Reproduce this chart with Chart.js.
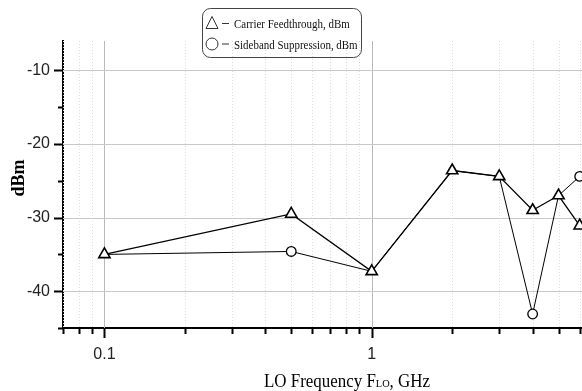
<!DOCTYPE html>
<html>
<head>
<meta charset="utf-8">
<script src="https://cdn.jsdelivr.net/npm/chart.js@4.4.0/dist/chart.umd.min.js"></script>
<style>
  html, body { margin: 0; padding: 0; background: #fff; }
</style>
</head>
<body>
<canvas id="chart" width="582" height="391"></canvas>
<script>
// Data
const freqGHz = [0.1, 0.5, 1, 2, 3, 4, 5, 6];
const carrierFeedthrough = [-35.0, -29.5, -37.3, -23.6, -24.4, -29.0, -27.0, -31.1];
const sidebandSuppression = [-35.0, -34.6, -37.3, -23.6, -24.4, -43.1, -27.0, -24.4];
const seriesNames = ['Carrier Feedthrough, dBm', 'Sideband Suppression, dBm'];
const xTickLabels = [0.1, 1, 10];
const yTickLabels = [-10, -20, -30, -40];

const SERIF = '"Liberation Serif", "Times New Roman", serif';
const SANS = '"Liberation Sans", Arial, sans-serif';

function isNiceLog(v) {
    const e = Math.floor(Math.log10(v) + 1e-9);
    const s = v / Math.pow(10, e);
    return Math.abs(s - Math.round(s)) < 1e-6 ? Math.round(s) : 0;
}

// grid lines and tick marks, drawn from the scales' own ticks
const axisDecor = {
    id: 'axisDecor',
    beforeDatasetsDraw(chart) {
        const { ctx, chartArea: a, scales: { x, y } } = chart;
        ctx.save();
        ctx.lineWidth = 1;
        x.ticks.forEach(t => {
            const s = isNiceLog(t.value);
            if (!s) return;
            const px = Math.round(x.getPixelForValue(t.value)) + 0.5;
            if (px > a.right) return;
            if (s === 1) {
                ctx.strokeStyle = '#b9b9b9';
                ctx.setLineDash([]);
            } else {
                ctx.strokeStyle = '#dcdcdc';
                ctx.setLineDash([1, 2]);
            }
            ctx.beginPath();
            ctx.moveTo(px, a.top);
            ctx.lineTo(px, a.bottom);
            ctx.stroke();
            // tick mark
            ctx.setLineDash([]);
            ctx.strokeStyle = '#000';
            ctx.lineWidth = 2;
            ctx.beginPath();
            ctx.moveTo(px, a.bottom);
            ctx.lineTo(px, a.bottom + (s === 1 ? 10 : 6));
            ctx.stroke();
            ctx.lineWidth = 1;
        });
        y.ticks.forEach(t => {
            if (t.value % 5 !== 0) return;
            const py = Math.round(y.getPixelForValue(t.value)) + 0.5;
            const major = t.value % 10 === 0;
            if (major) {
                ctx.strokeStyle = '#c8c8c8';
                ctx.lineWidth = 1.2;
                ctx.beginPath();
                ctx.moveTo(a.left, py);
                ctx.lineTo(a.right, py);
                ctx.stroke();
            }
            ctx.strokeStyle = '#000';
            ctx.lineWidth = 2;
            ctx.beginPath();
            ctx.moveTo(a.left, py);
            ctx.lineTo(a.left - (major ? 9 : 5), py);
            ctx.stroke();
        });
        ctx.restore();
    },
    afterDraw(chart) {
        const { ctx } = chart;
        ctx.save();
        // legend box
        ctx.strokeStyle = '#444';
        ctx.lineWidth = 1;
        ctx.beginPath();
        ctx.roundRect(202.5, 8.5, 159, 49, 8);
        ctx.stroke();
        ctx.fillStyle = '#111';
        ctx.textBaseline = 'middle';
        const rows = [23.5, 44];
        const styles = ['triangle', 'circle'];
        rows.forEach((ry, i) => {
            ctx.strokeStyle = '#333';
            ctx.lineWidth = 1;
            ctx.beginPath();
            if (styles[i] === 'triangle') {
                ctx.moveTo(212, ry - 7);
                ctx.lineTo(218, ry + 5);
                ctx.lineTo(206, ry + 5);
                ctx.closePath();
            } else {
                ctx.arc(212, ry, 6, 0, Math.PI * 2);
            }
            ctx.stroke();
            ctx.beginPath();
            ctx.moveTo(222, ry);
            ctx.lineTo(229, ry);
            ctx.stroke();
            ctx.save();
            ctx.translate(234, ry + 1);
            ctx.scale(0.81, 1);
            ctx.font = '13.5px ' + SERIF;
            ctx.fillText(seriesNames[i], 0, 0);
            ctx.restore();
        });
        // y title
        ctx.fillStyle = '#000';
        ctx.font = 'bold 18px ' + SERIF;
        ctx.textAlign = 'center';
        ctx.textBaseline = 'middle';
        ctx.translate(19, 178);
        ctx.rotate(-Math.PI / 2);
        ctx.fillText('dBm', 0, 0);
        ctx.setTransform(1, 0, 0, 1, 0, 0);
        // x title with subscript
        const parts = [['LO Frequency F', 18], ['LO', 11], [', GHz', 18]];
        ctx.textAlign = 'left';
        ctx.textBaseline = 'alphabetic';
        let total = 0;
        parts.forEach(p => { ctx.font = p[1] + 'px ' + SERIF; total += ctx.measureText(p[0]).width; });
        const sx = 0.94;
        ctx.translate(347 - total * sx / 2, 387);
        ctx.scale(sx, 1);
        let tx = 0;
        parts.forEach(p => {
            ctx.font = p[1] + 'px ' + SERIF;
            ctx.fillText(p[0], tx, 0);
            tx += ctx.measureText(p[0]).width;
        });
        ctx.restore();
    }
};

const ctx = document.getElementById('chart').getContext('2d');
new Chart(ctx, {
    type: 'line',
    data: {
        datasets: [
            {
                label: seriesNames[0],
                data: freqGHz.map((f, i) => ({ x: f, y: carrierFeedthrough[i] })),
                borderColor: '#000',
                borderWidth: 1.3,
                pointStyle: 'triangle',
                pointRadius: 6.5,
                pointBorderWidth: 1.6,
                pointBackgroundColor: '#fff',
                pointBorderColor: '#000'
            },
            {
                label: seriesNames[1],
                data: freqGHz.map((f, i) => ({ x: f, y: sidebandSuppression[i] })),
                borderColor: '#000',
                borderWidth: 1,
                pointStyle: 'circle',
                // hide circles that sit under a triangle
                pointRadius: c => (sidebandSuppression[c.dataIndex] === carrierFeedthrough[c.dataIndex] ? 0 : 4.8),
                pointBorderWidth: 1.3,
                pointBackgroundColor: '#fff',
                pointBorderColor: '#000'
            }
        ]
    },
    options: {
        responsive: false,
        animation: false,
        layout: { autoPadding: false, padding: { top: 41, right: 0, left: 0, bottom: 0 } },
        plugins: { legend: { display: false }, tooltip: { enabled: false } },
        scales: {
            x: {
                type: 'logarithmic',
                min: 0.07,
                max: 6.12,
                afterFit: s => { s.height = 63; s.paddingRight = 0; },
                grid: { display: false, drawTicks: false },
                border: { display: true, color: '#000', width: 2 },
                ticks: {
                    autoSkip: false,
                    maxRotation: 0,
                    padding: 17,
                    color: '#222',
                    font: { family: SANS, size: 16 },
                    callback: v => (xTickLabels.some(l => Math.abs(l - v) < 1e-9) ? String(v) : '')
                }
            },
            y: {
                min: -45,
                max: -6,
                afterFit: s => { s.width = 63; },
                grid: { display: false, drawTicks: false },
                border: { display: true, color: '#000', width: 2 },
                ticks: {
                    stepSize: 5,
                    padding: 13,
                    color: '#222',
                    font: { family: SANS, size: 16 },
                    callback: v => (yTickLabels.includes(v) ? String(v) : '')
                }
            }
        }
    },
    plugins: [axisDecor]
});
</script>
</body>
</html>
